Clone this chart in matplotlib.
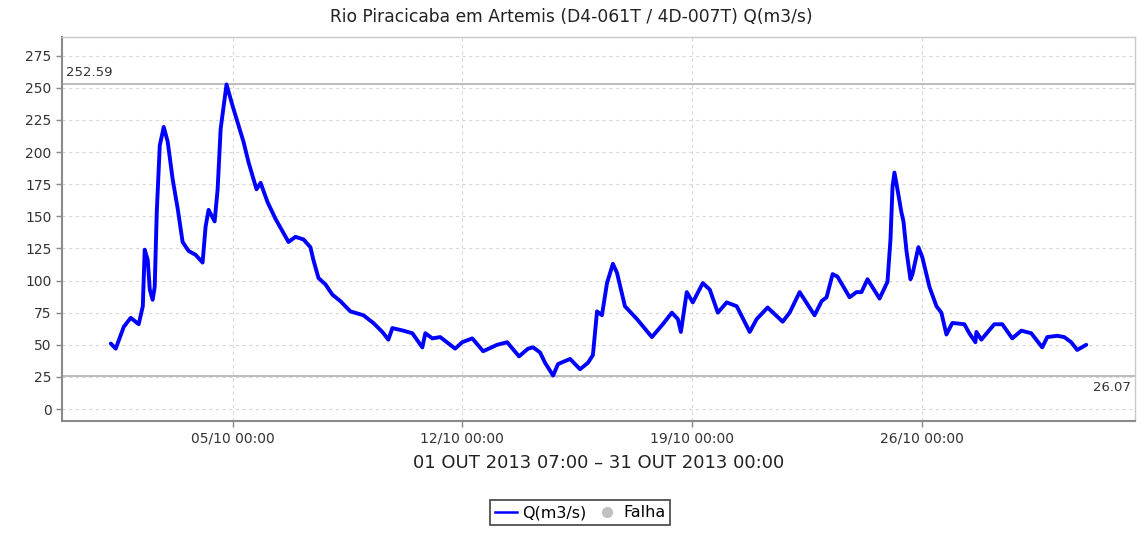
import matplotlib
matplotlib.use("Agg")
import matplotlib.pyplot as plt
import matplotlib.dates as mdates
from matplotlib.lines import Line2D
import pandas as pd

# Flow readings: hours since 2013-10-01 00:00 and discharge in m3/s
hours = [7, 10.6, 16.5, 21.6, 27.4, 30.4, 31.8, 34.0, 35.5, 37.6, 39.1, 40.6, 42.8,
         45.7, 48.6, 52.2, 55.9, 59.5, 63.9, 69.0, 74.1, 76.3, 78.5, 82.9, 85.1, 87.3,
         91.6, 96.0, 99.7, 104.0, 107.7, 113.5, 116.5, 121.6, 127.4, 133.2, 136.9,
         142.0, 147.8, 152.9, 155.1, 158.8, 163.9, 169.0, 174.8, 182.1, 191.6, 198.9,
         205.5, 209.9, 212.8, 220.8, 227.4, 234.7, 236.9, 242.0, 247.8, 258.7, 263.9,
         271.2, 279.2, 289.4, 296.7, 305.4, 312.0, 315.7, 320.8, 324.4, 330.3, 333.9,
         342.7, 350.0, 355.8, 359.4, 362.4, 366.0, 369.7, 374.0, 377.0, 382.8, 391.6,
         402.5, 410.5, 417.1, 421.5, 423.7, 428.0, 432.4, 439.7, 444.8, 450.7, 457.2,
         464.5, 474.0, 479.1, 487.1, 498.1, 503.2, 510.5, 521.4, 526.6, 530.2, 534.6,
         538.2, 544.8, 547.0, 552.1, 555.7, 560.1, 568.9, 574.7, 576.9, 578.4, 579.8,
         582.0, 584.9, 586.4, 588.6, 591.5, 593.0, 597.3, 600.2, 605.4, 610.5, 614.1,
         617.8, 622.1, 630.9, 634.5, 639.0, 639.7, 643.3, 652.8, 658.6, 665.9, 672.5,
         679.8, 687.8, 691.5, 698.8, 703.9, 709.0, 713.4, 720.0]
flow = [51, 47, 64, 71, 66, 80, 124, 116, 93, 85, 95, 153, 205,
        219.5, 208, 179, 156, 130, 123, 120, 114, 142, 155, 146, 171, 218,
        252.59, 236, 223, 208, 192, 171, 176, 161, 148, 137, 130,
        134, 132, 126, 116, 102, 97, 89, 84, 76, 73, 67,
        60, 54, 63, 61, 59, 48, 59, 55, 56, 47, 52,
        55, 45, 50, 52, 41, 47, 48, 44, 36, 26.07, 35,
        39, 31, 36, 42, 76, 73, 98, 113, 106, 80, 70,
        56, 66, 75, 70, 60, 91, 83, 98, 93, 75, 83,
        80, 60, 70, 79, 68, 75, 91, 73, 84, 87, 105,
        103, 91, 87, 91, 91, 101, 86, 99, 132, 173, 184,
        171, 153, 146, 123, 101, 105, 126, 118, 95, 80, 75,
        58, 67, 66, 59, 52, 60, 54, 66, 66, 55, 61,
        59, 48, 56, 57, 56, 52, 46, 50]

title = "Rio Piracicaba em Artemis (D4-061T / 4D-007T) Q(m3/s)"
period = "01 OUT 2013 07:00 \u2013 31 OUT 2013 00:00"
y_ticks = list(range(0, 276, 25))
x_ticks = ["2013-10-05", "2013-10-12", "2013-10-19", "2013-10-26"]

times = pd.Timestamp("2013-10-01") + pd.to_timedelta(hours, unit="h")
q_max = max(flow)
q_min = min(flow)

plt.rcParams["font.family"] = ["DejaVu Sans"]
fig = plt.figure(figsize=(11.42, 5.34), dpi=100)
ax = fig.add_axes([0.0543, 0.2116, 0.9396, 0.7191])

ax.plot(times, flow, color="#0000ff", linewidth=2.8, solid_joinstyle="round",
        solid_capstyle="round", zorder=3)

# extreme markers
ax.axhline(q_max, color="#b0b0b0", linewidth=1.2, zorder=2)
ax.axhline(q_min, color="#b0b0b0", linewidth=1.2, zorder=2)
ax.text(0.004, q_max + 4, f"{q_max:.2f}", transform=ax.get_yaxis_transform(),
        ha="left", va="bottom", fontsize=9.5, color="#333333")
ax.text(0.996, q_min - 4, f"{q_min:.2f}", transform=ax.get_yaxis_transform(),
        ha="right", va="top", fontsize=9.5, color="#333333")

span = times[-1] - times[0]
ax.set_xlim(times[0] - span * 0.05, times[-1] + span * 0.05)
ax.set_ylim(-9.3, 289.5)
ax.set_yticks(y_ticks)
ax.set_xticks(pd.to_datetime(x_ticks))
ax.xaxis.set_major_formatter(mdates.DateFormatter("%d/%m %H:%M"))

ax.grid(True, color="#d8d8d8", linestyle=(0, (3, 3)), linewidth=0.8, zorder=0)
ax.tick_params(axis="both", labelsize=10, colors="#333333", length=4,
               color="#888888", width=1)
for side in ("left", "bottom"):
    ax.spines[side].set_color("#8a8a8a")
    ax.spines[side].set_linewidth(1.5)
for side in ("top", "right"):
    ax.spines[side].set_color("#c8c8c8")
    ax.spines[side].set_linewidth(1.0)

# title centred on the whole figure
fig.text(0.5, 0.968, title, ha="center", va="center", fontsize=12.3,
         color="#222222")
ax.set_xlabel(period, fontsize=13, color="#222222", labelpad=6)

handles = [Line2D([], [], color="#0000ff", linewidth=1.8),
           Line2D([], [], marker="o", linestyle="none", color="#c0c0c0",
                  markersize=7)]
leg = fig.legend(handles, ["Q(m3/s)", "Falha"], loc="center",
                 bbox_to_anchor=(0.508, 0.04), ncol=2, fontsize=11.5,
                 frameon=True, fancybox=False, handlelength=1.4,
                 handletextpad=0.3, columnspacing=0.6, borderpad=0.3,
                 borderaxespad=0)
leg.get_frame().set_edgecolor("#111111")
leg.get_frame().set_linewidth(1.2)

fig.savefig("out.png", dpi=100)
